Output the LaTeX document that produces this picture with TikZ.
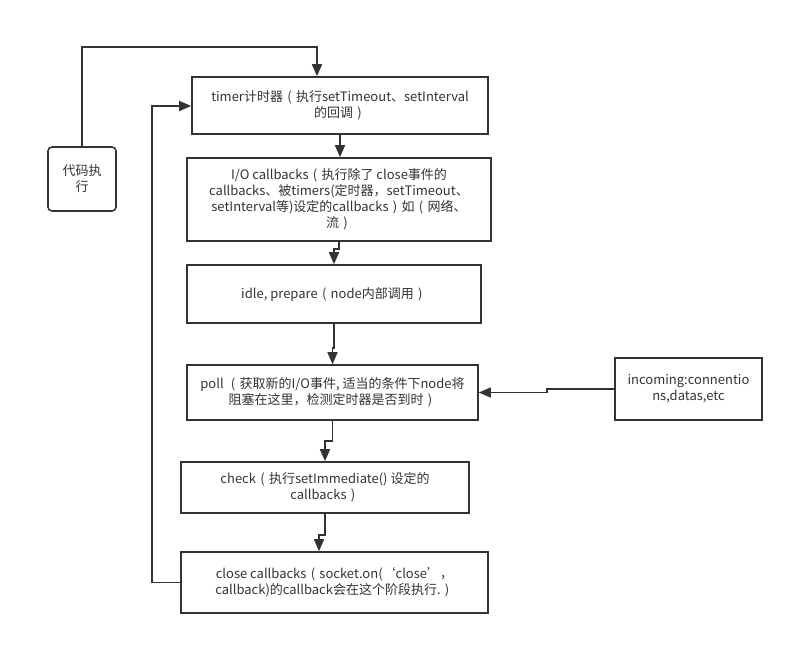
\documentclass[tikz,border=0pt]{standalone}
\usepackage{fontspec}
\setmainfont{Noto Sans CJK SC}
\usetikzlibrary{arrows.meta,calc}
\definecolor{ink}{HTML}{333333}
\newcommand\lpr{\makebox[1em]{(}}
\newcommand\rpr{\makebox[1em]{)}}
\begin{document}
\begin{tikzpicture}[x=1pt,y=-1pt,
  box/.style={draw=ink,line width=1.6pt,fill=white,text=ink,align=center,inner sep=0pt,
    font=\fontsize{13}{16}\selectfont},
  arr/.style={draw=ink,line width=1.6pt,-{Triangle[length=12pt,width=10pt]}}]
\useasboundingbox[fill=white] (0,0) rectangle (794,645);
\node[box,minimum width=296pt,minimum height=57pt] (timer) at (340,105.5)
  {timer计时器\lpr 执行setTimeout、setInterval\\的回调\rpr};
\node[box,rounded corners=4pt,minimum width=68pt,minimum height=64pt] (code) at (82,179)
  {代码执\\行};
\node[box,minimum width=304pt,minimum height=83pt] (io) at (339,199.5)
  {I/O callbacks\lpr 执行除了 close事件的\\callbacks、被timers(定时器，setTimeout、\\setInterval等)设定的callbacks\rpr 如\lpr 网络、\\流\rpr};
\node[box,minimum width=294pt,minimum height=58pt] (idle) at (334,294)
  {idle, prepare\lpr node内部调用\rpr};
\node[box,minimum width=291pt,minimum height=55pt] (poll) at (332.5,392.5)
  {poll \lpr 获取新的I/O事件, 适当的条件下node将\\阻塞在这里，检测定时器是否到时\rpr};
\node[box,minimum width=288pt,minimum height=51pt] (check) at (325,487.5)
  {check\lpr 执行setImmediate() 设定的\\callbacks\rpr};
\node[box,minimum width=307pt,minimum height=61pt] (close) at (334.5,582.5)
  {close callbacks\lpr socket.on(‘close’，\\callback)的callback会在这个阶段执行.\rpr};
\node[box,minimum width=147pt,minimum height=62pt] (inc) at (688.5,389)
  {incoming:connentio\\ns,datas,etc};
\coordinate (top) at (317,47);
\coordinate (loop) at (152,106);
\coordinate (c5) at (319,535);
\draw[arr] (code.north) |- (top) -- (top |- timer.north);
\draw[arr] (close.west) -| (loop) -- (timer.west |- loop);
\draw[arr] (timer.south) -- (timer.south |- io.north);
\draw[arr] (io.south) -- ++(0,7) -| (idle.north);
\draw[arr] (idle.south) -- ++(0,24) -| (poll.north);
\draw[arr] (poll.south) -- ++(0,20) -| (check.north);
\draw[arr] (check.south) |- (c5) -- (c5 |- close.north);
\draw[arr] (inc.west) -- ++(-67,0) |- (poll.east);
\end{tikzpicture}
\end{document}
